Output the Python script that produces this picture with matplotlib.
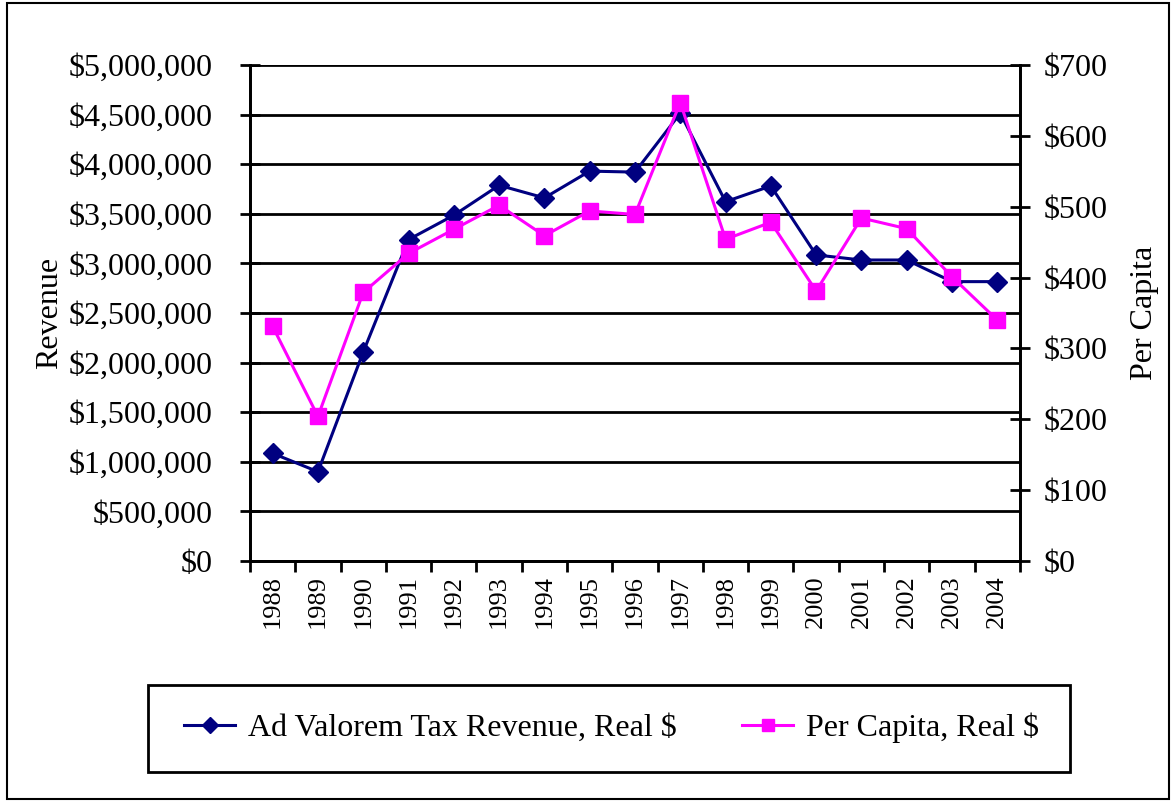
import matplotlib
matplotlib.use("Agg")
import matplotlib.pyplot as plt
from matplotlib.patches import Rectangle
from matplotlib.ticker import FuncFormatter, MultipleLocator, FixedLocator
import numpy as np

plt.rcParams["font.family"] = ["Liberation Serif", "DejaVu Serif"]

years = [str(y) for y in range(1988, 2005)]
revenue = [1085000, 900000, 2107000, 3240000, 3485000, 3787000, 3660000,
           3930000, 3920000, 4513000, 3622000, 3780000, 3085000, 3034000,
           3034000, 2816000, 2816000]
per_capita = [331, 204, 379, 434, 468, 502, 459, 494, 489, 647, 454, 478,
              381, 484, 469, 401, 340]

NAVY = "#000080"
MAGENTA = "#FF00FF"

fig = plt.figure(figsize=(11.76, 8.02), dpi=100)
# outer chart border
fig.patches.append(Rectangle((0.006, 0.004), 0.988, 0.992, transform=fig.transFigure,
                             fill=False, edgecolor="black", lw=1.5))

ax = fig.add_axes([0.2126, 0.3005, 0.6547, 0.6185])
ax2 = ax.twinx()

x = np.arange(len(years))
ax.plot(x, revenue, "-D", color=NAVY, lw=2.2, ms=10.5, zorder=3,
        label="Ad Valorem Tax Revenue, Real $")
ax2.plot(x, per_capita, "-s", color=MAGENTA, lw=2.2, ms=11.5, zorder=3,
         label="Per Capita, Real $")

ax.set_xlim(-0.5, len(years) - 0.5)
ax.set_ylim(0, 5000000)
ax2.set_ylim(0, 700)

ax.yaxis.set_major_locator(MultipleLocator(500000))
ax.yaxis.set_major_formatter(FuncFormatter(lambda v, p: f"${v:,.0f}"))
ax2.yaxis.set_major_locator(MultipleLocator(100))
ax2.yaxis.set_major_formatter(FuncFormatter(lambda v, p: f"${v:,.0f}"))

ax.grid(axis="y", color="black", lw=2)
ax.set_axisbelow(True)

# category ticks between the years, labels at centres
ax.xaxis.set_major_locator(FixedLocator(np.arange(len(years) + 1) - 0.5))
ax.xaxis.set_major_formatter(FuncFormatter(lambda v, p: ""))
ax.xaxis.set_minor_locator(FixedLocator(x))
ax.set_xticklabels(years, minor=True, rotation=90, fontsize=19)
ax.tick_params(axis="x", which="major", direction="out", length=8, width=2)
ax.tick_params(axis="x", which="minor", length=0, pad=10)

ax.tick_params(axis="y", direction="inout", length=14, width=2, labelsize=23, pad=20)
ax2.tick_params(axis="y", direction="inout", length=14, width=2, labelsize=23, pad=10)

for a in (ax, ax2):
    for s in a.spines.values():
        s.set_linewidth(2)
    a.spines["top"].set_visible(False)

ax.set_ylabel("Revenue", fontsize=23, labelpad=3)
ax2.set_ylabel("Per Capita", fontsize=23, labelpad=16)

# legend box
fig.patches.append(Rectangle((0.1258, 1 - 772 / 802), 0.784, 87 / 802,
                             transform=fig.transFigure, fill=False,
                             edgecolor="black", lw=2))
h1, l1 = ax.get_legend_handles_labels()
h2, l2 = ax2.get_legend_handles_labels()
fig.legend(h1 + h2, l1 + l2, loc="center", ncol=2, frameon=False,
           bbox_to_anchor=(0.52, 1 - 728 / 802), fontsize=23,
           handlelength=1.6, handletextpad=0.4, columnspacing=2.05,
           markerscale=0.75)

fig.savefig("out.png", dpi=100)
